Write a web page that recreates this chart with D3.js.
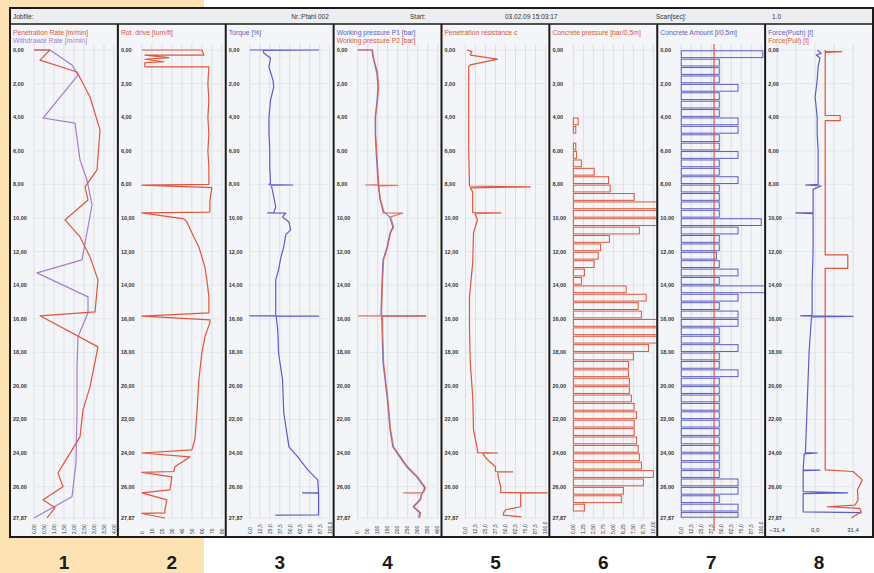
<!DOCTYPE html>
<html>
<head>
<meta charset="utf-8">
<script src="https://cdn.jsdelivr.net/npm/d3@7"></script>
<style>
body { margin: 0; background: #fff; }
svg { display: block; font-family: "Liberation Sans", Arial, sans-serif; }
</style>
</head>
<body>
<svg id="chart" width="874" height="573"></svg>
<script>
// ---- data (depth in m) ----
var depthTicks = [0, 2, 4, 6, 8, 10, 12, 14, 16, 18, 20, 22, 24, 26, 27.87];

// 1: penetration / withdrawal rate [m/min]
var penDepth = [0,0,0.6,1.31,2.8,4.76,7.14,8.15,8.93,10.12,11.13,12.32,13.69,15.6,15.83,17.68,20.06,21.43,23.04,25.18,26.01,26.79,27.26,27.87];
var penRate  = [0,0.8,0.3,2.15,2.8,3.3,3.15,2.55,2.7,1.55,2.3,2.8,3.2,3.05,0.3,3.2,2.8,2.45,2.3,1.2,1.45,0.45,1.05,0.65];
var wdDepth  = [0,0,0.89,1.49,4.05,4.35,6.55,7.74,9.23,12.5,13.27,14.7,15.65,17.08,18.87,21.6,24.58,26.6,27.87];
var wdRate   = [0,0.8,1.9,2.2,0.45,2.05,2.3,2.65,2.9,2.4,0.15,2.7,2.7,2.2,2.15,2.15,2.1,1.9,0];

// 2: rotary drive
var rotDepth = [0,0,0.3,0.3,0.45,0.55,0.7,0.75,1.0,1.0,2,3,4,5,6,7,8,8.05,8.2,9.0,9.65,9.7,10.06,10.24,11.13,11.73,12.32,12.92,13.69,14.7,15.65,15.85,16.07,16.25,17.08,18.04,19.64,21.6,23.21,23.81,24.0,24.23,24.82,25.1,25.15,25.42,26.19,26.37,26.79,27.38,27.56,27.6,27.87];
var rotSpeed = [0,60,62,3,27,3,22,3,3,67,66,67,66,67,66,67,67,0,70,68,68,0,42,45,52,57,60,63,65,67,67,0,68,68,63,60,57,55,53,50,0,48,33,32,0,30,28,0,25,23,23,0,23];

// 3: torque [%]
var trqDepth = [0,0,0.02,0.18,0.48,1.01,1.79,2.2,2.98,3.99,4.94,5.95,6.96,7.92,8.02,8.04,8.06,8.51,9.35,9.68,9.7,9.72,9.94,10.24,10.71,11.01,11.73,12.32,13.1,13.69,14.7,15.65,15.81,15.83,15.85,15.87,16.67,18.04,19.64,21.6,23.63,24.23,25.0,25.6,26.35,26.37,26.39,27.56,27.68,27.7];
var torque   = [0,86,17,17.5,26,24,29,30,26,24,24,25,25,26,24,54,27,29,32.5,30,22.5,45,41,49,51,45,42.5,39,36,32.5,32.5,32.5,32.5,0,86,33,35,36,41,42.5,49,60,72.5,85,86,66,86,86,86,32];

// 4: working pressure P1 / P2 [bar]
var p1Depth = [0,0,0.05,0.48,1.37,2.2,2.98,3.99,4.94,5.95,6.96,7.92,8.93,9.58,9.94,10.54,10.89,11.73,12.5,13.69,15.65,15.81,15.83,15.85,16.67,18.63,20.65,22.62,23.63,24.23,24.82,25.42,26.07,26.37,26.79,27.2,27.56,27.87];
var p1Press = [0,70,72,78,96,102,97,88,88,92,97,102,112,127,160,176,162,147,127,122,117,117,340,120,122,127,147,162,176,210,245,295,335,325,310,278,310,305];
var p2Depth = [0,0,0.05,0.48,1.37,2.2,2.98,3.99,4.94,5.95,6.96,7.92,8.02,8.04,8.06,8.1,8.93,9.58,9.68,9.7,9.72,9.94,10.54,10.89,11.73,12.5,13.69,15.65,15.81,15.83,15.85,15.87,16.67,18.63,20.65,22.62,23.63,24.23,24.82,25.42,26.07,26.35,26.37,26.39,26.79,27.2,27.56,27.87];
var p2Press = [0,75,75,80,100,105,100,90,90,95,100,105,105,40,200,105,115,130,125,125,225,165,180,165,150,130,125,120,120,5,340,125,125,130,150,165,180,215,250,300,340,330,230,320,315,280,315,310];

// 5: penetration resistance
var resDepth = [0,0.1,0.3,0.54,0.89,1.0,2.0,4.0,6.0,8.1,8.15,8.21,8.45,9.52,9.68,9.7,9.75,10.12,10.89,12.68,14.7,16.67,18.63,20.65,22.62,23.81,23.98,24.0,24.02,24.4,24.82,25.1,25.12,25.14,25.42,26.01,26.35,26.37,26.39,26.6,27.2,27.38,27.56,27.7,27.8];
var resist   = [2,8,6,40,6,4,4,4,4,5,81,6,9,9,9,44,12,15,10,9,5,5,6,9,10,15,15,40,21,27.5,37.5,37.5,59,40,41,44,44,102,69,69,69,50,47.5,47.5,70];

// 6 + 7: per 0.5 m section
var bandDepth = [0,0.5,1,1.5,2,2.5,3,3.5,4,4.5,5,5.5,6,6.5,7,7.5,8,8.5,9,9.5,10,10.5,11,11.5,12,12.5,13,13.5,14,14.5,15,15.5,16,16.5,17,17.5,18,18.5,19,19.5,20,20.5,21,21.5,22,22.5,23,23.5,24,24.5,25,25.5,26,26.5,27,27.5];
var concPress = [0,0,0,0,0,0,0,0,0.6,0.3,0,0.3,0.4,1.0,2.6,4.4,4.6,7.6,10.4,10.4,10.4,8.25,4.5,3.4,3.1,2.6,1.4,1.0,6.6,9.1,8.1,8.5,10.4,10.4,10.4,9.4,7.5,6.9,6.9,7.0,7.0,7.25,7.6,7.9,7.6,7.6,7.9,8.1,8.25,8.5,10.0,8.75,6.25,6.0,1.4,0];
var concAmount = [102,47.5,47.5,47.5,71,47.5,47.5,47.5,71,71,47.5,47.5,71,47.5,47.5,71,47.5,47.5,47.5,47.5,100,71,47.5,47.5,44,47.5,71,47.5,105,71,47.5,71,71,47.5,47.5,71,47.5,47.5,71,47.5,47.5,47.5,47.5,47.5,47.5,47.5,47.5,47.5,47.5,47.5,47.5,71,71,47.5,71,71];
var amountTarget = 41;

// 8: force push / pull [t]
var pushDepth = [0,0.2,0.3,0.48,1.0,1.8,2.8,4.0,5.0,6.0,7.0,8.0,8.04,8.1,8.3,9.68,9.7,9.75,12.0,14.0,15.8,15.83,15.86,15.9,18.0,20.0,22.0,23.9,23.98,24.0,24.05,25.0,25.02,25.05,26.3,26.37,26.42,27.5,27.55,27.6];
var push      = [2,5,1,4,2.5,1.7,0,1.7,1.7,2.5,2.5,2.5,-8,5,-1.7,-1.7,-16,-1.7,-1.7,-2.5,-2.5,-12,31.4,-3,-5,-6,-7,-8,-8,1.7,-9,-9.9,4,-9.9,-9.9,27,-9.9,-9.9,38,38];
var pullDepth = [0,0.1,0.1,0.15,3.9,3.9,4.2,4.2,12.2,12.2,13.0,13.0,25.0,25.1,25.6,26.19,26.79,27.1,27.2,27.3,27.5,27.87];
var pull      = [8.3,8.3,22,8.3,8.3,20.7,20.7,8.3,8.3,27,27,8.3,8.3,31.4,39,35,35.5,33,10,37,38,30];

var header = [["Jobfile:", 13, "start"], ["Nr.:Pfahl 002", 310, "middle"], ["Start:", 410, "start"],
              ["03.02.09 15:03:17", 505, "start"], ["Scan[sec]:", 656, "start"], ["1.0", 772, "start"]];

var red = "#e0553b", blue = "#5a5ec6", purple = "#a57ccf";

// ---- layout ----
var svg = d3.select("#chart");
var frame = {left: 10, right: 873, top: 8, bottom: 537};
var y = d3.scaleLinear().domain([0, 27.87]).range([50, 518]);
var panelX = d3.scaleLinear().domain([0, 8]).range([frame.left, frame.right]);
var comma = function(f) { return function(v) { return d3.format(f)(v).replace(".", ","); }; };

var panels = [
  {titles: [["Penetration Rate [m/min]", red], ["Withdrawal Rate [m/min]", purple]], dom: [0, 4], fmt: comma(".2f"),
   lines: [[wdDepth, wdRate, purple], [penDepth, penRate, red]]},
  {titles: [["Rot. drive [turn/ft]", red]], dom: [0, 80], fmt: comma(".0f"),
   lines: [[rotDepth, rotSpeed, red]]},
  {titles: [["Torque [%]", blue]], dom: [0, 100], fmt: comma(".1f"),
   lines: [[trqDepth, torque, blue]]},
  {titles: [["Working pressure P1 [bar]", blue], ["Working pressure P2 [bar]", red]], dom: [0, 400], fmt: comma(".0f"),
   lines: [[p1Depth, p1Press, blue], [p2Depth, p2Press, red]]},
  {titles: [["Penetration resistance c", red]], dom: [0, 100], fmt: comma(".1f"),
   lines: [[resDepth, resist, red]]},
  {titles: [["Concrete pressure [bar/0,5m]", red]], dom: [0, 10], fmt: comma(".2f"),
   bars: [concPress, red]},
  {titles: [["Concrete Amount [l/0,5m]", blue]], dom: [0, 100], fmt: comma(".1f"),
   bars: [concAmount, blue], target: amountTarget},
  {titles: [["Force(Push) [t]", blue], ["Force(Pull) [t]", red]], dom: [-31.4, 31.4], fmt: comma(".1f"),
   lines: [[pushDepth, push, blue], [pullDepth, pull, red]], span: [12, 88], grid: 4}
];

// background
svg.append("rect").attr("width", 874).attr("height", 573).attr("fill", "#fff");
svg.append("rect").attr("width", 204).attr("height", 573).attr("fill", "#fde2b4");
svg.append("rect")
  .attr("x", frame.left).attr("y", frame.top)
  .attr("width", frame.right - frame.left).attr("height", frame.bottom - frame.top)
  .attr("fill", "#f3f5f8");
svg.append("rect")
  .attr("x", frame.left).attr("y", frame.top)
  .attr("width", frame.right - frame.left).attr("height", 16)
  .attr("fill", "#eceef1");

header.forEach(function(h) {
  svg.append("text").attr("x", h[1]).attr("y", 19).attr("text-anchor", h[2])
    .attr("font-size", 6.5).attr("fill", "#333").text(h[0]);
});

var defs = svg.append("defs");

panels.forEach(function(p, i) {
  var left = panelX(i), right = panelX(i + 1);
  var span = p.span || [24, 104];
  var x = d3.scaleLinear().domain(p.dom).range([left + span[0], left + span[1]]);
  var nGrid = p.grid || 8;
  var gridVals = d3.range(nGrid + 1).map(function(k) { return p.dom[0] + k * (p.dom[1] - p.dom[0]) / nGrid; });
  var g = svg.append("g");

  defs.append("clipPath").attr("id", "clip" + i)
    .append("rect").attr("x", left + 1).attr("y", 25).attr("width", right - left - 2).attr("height", 512);

  // grid
  g.selectAll(".vg").data(gridVals).enter().append("line")
    .attr("x1", function(d) { return x(d); }).attr("x2", function(d) { return x(d); })
    .attr("y1", 44).attr("y2", 519)
    .attr("stroke", "#d6dade").attr("stroke-width", 0.8);
  g.selectAll(".hg").data(depthTicks).enter().append("line")
    .attr("x1", x.range()[0]).attr("x2", x.range()[1])
    .attr("y1", function(d) { return y(d); }).attr("y2", function(d) { return y(d); })
    .attr("stroke", "#e2e5e9").attr("stroke-width", 0.8);

  // depth labels
  g.selectAll(".dl").data(depthTicks).enter().append("text")
    .attr("x", left + 3).attr("y", function(d) { return y(d) + 2; })
    .attr("font-size", 5.5).attr("font-weight", "bold").attr("fill", "#333")
    .text(function(d) { return d3.format(".2f")(d).replace(".", ","); });

  // titles
  p.titles.forEach(function(t, k) {
    g.append("text").attr("x", left + 3).attr("y", 35 + k * 8)
      .attr("font-size", 6.8).attr("fill", t[1]).text(t[0]);
  });

  var plot = g.append("g").attr("clip-path", "url(#clip" + i + ")");

  if (p.bars) {
    var vals = p.bars[0];
    plot.selectAll("rect").data(bandDepth).enter().append("rect")
      .attr("x", x(0))
      .attr("y", function(d) { return y(d) + 0.8; })
      .attr("width", function(d, k) { return Math.max(0, x(vals[k]) - x(0)); })
      .attr("height", function(d) { return y(Math.min(d + 0.5, 27.87)) - y(d) - 1.6; })
      .attr("fill", "none").attr("stroke", p.bars[1]).attr("stroke-width", 1);
  }
  if (p.target !== undefined) {
    plot.append("line").attr("x1", x(p.target)).attr("x2", x(p.target))
      .attr("y1", 44).attr("y2", 531).attr("stroke", red).attr("stroke-width", 1.2);
  }
  if (p.lines) {
    p.lines.forEach(function(s) {
      var pts = d3.zip(s[0], s[1]);
      var line = d3.line().x(function(d) { return x(d[1]); }).y(function(d) { return y(d[0]); });
      plot.append("path").attr("d", line(pts))
        .attr("fill", "none").attr("stroke", s[2]).attr("stroke-width", 1.2)
        .attr("stroke-opacity", i === 3 ? 0.8 : 1).attr("stroke-linejoin", "round");
    });
  }

  // bottom scale labels
  if (i === 7) {
    [p.dom[0], 0, p.dom[1]].forEach(function(v) {
      g.append("text").attr("x", x(v)).attr("y", 532).attr("text-anchor", "middle")
        .attr("font-size", 6).attr("fill", "#333").text(p.fmt(v));
    });
  } else {
    g.selectAll(".bl").data(gridVals).enter().append("text")
      .attr("transform", function(d) { return "translate(" + x(d) + ",534) rotate(-90)"; })
      .attr("dy", "0.35em").attr("font-size", 5).attr("fill", "#333")
      .text(function(d) { return p.fmt(d); });
  }

  // panel separator
  g.append("line").attr("x1", left).attr("x2", left).attr("y1", 24).attr("y2", frame.bottom)
    .attr("stroke", "#1b1b1b").attr("stroke-width", 2);

  // panel number
  svg.append("text").attr("x", (left + right) / 2).attr("y", 569)
    .attr("text-anchor", "middle").attr("font-size", 19).attr("font-weight", "bold")
    .attr("fill", "#1a1a1a").text(i + 1);
});

// frame lines
svg.append("line").attr("x1", frame.left).attr("x2", frame.right).attr("y1", 24).attr("y2", 24)
  .attr("stroke", "#1b1b1b").attr("stroke-width", 1.5);
svg.append("rect")
  .attr("x", frame.left).attr("y", frame.top)
  .attr("width", frame.right - frame.left).attr("height", frame.bottom - frame.top)
  .attr("fill", "none").attr("stroke", "#1b1b1b").attr("stroke-width", 2);
</script>
</body>
</html>
